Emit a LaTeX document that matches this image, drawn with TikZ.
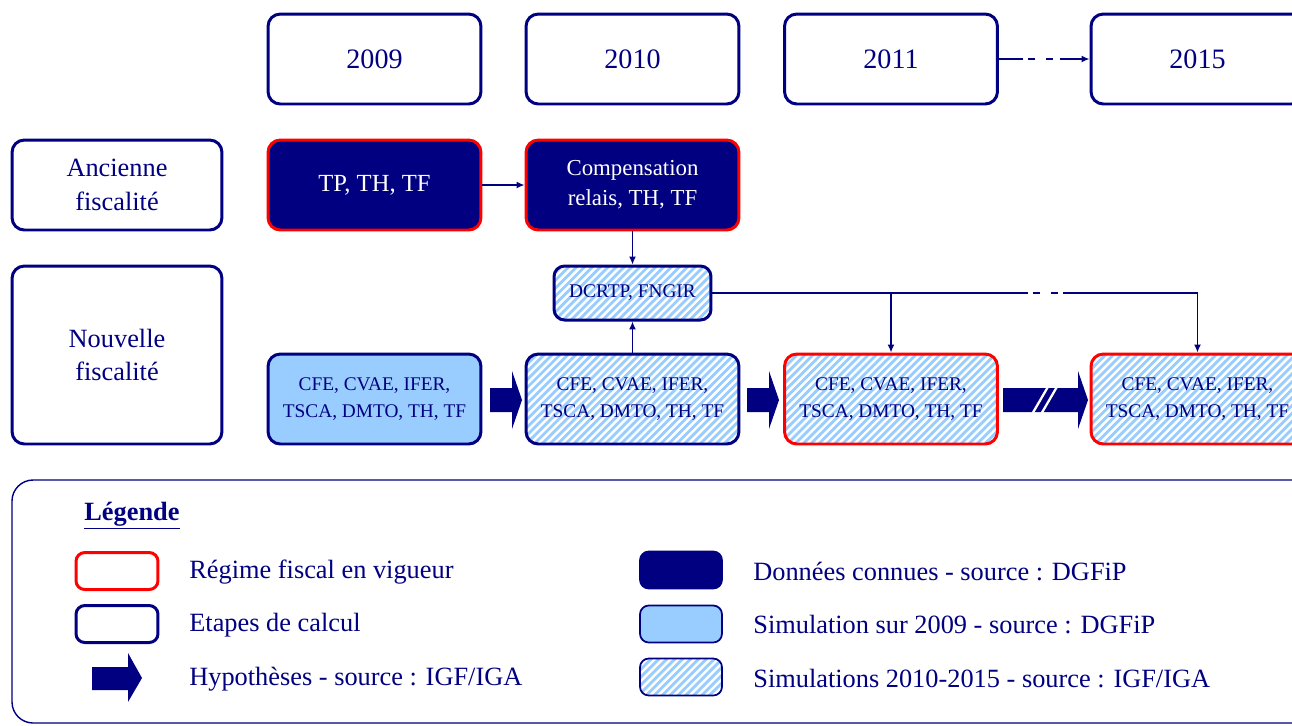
\documentclass[tikz,border=0pt]{standalone}
\usepackage{fontspec}
\setmainfont{Liberation Serif}
\usepackage{tikz}
\usetikzlibrary{arrows.meta, positioning, calc, patterns}
\definecolor{navy}{RGB}{0,0,128}
\definecolor{sky}{RGB}{153,204,255}
\pgfdeclarepatternformonly{skystripes}{\pgfpoint{-1pt}{-1pt}}{\pgfpoint{5.5pt}{5.5pt}}{\pgfpoint{4.5pt}{4.5pt}}{%
  \pgfsetlinewidth{1.6pt}
  \pgfpathmoveto{\pgfpoint{0pt}{0pt}}
  \pgfpathlineto{\pgfpoint{4.6pt}{4.6pt}}
  \pgfusepath{stroke}}
\tikzset{
  box/.style={draw=navy, line width=1.7pt, rounded corners=7pt, text=navy, align=center,
    minimum width=4.26cm, minimum height=1.8cm, inner sep=1pt},
  inforce/.style={draw=red},
  known/.style={fill=navy, text=white},
  sim/.style={fill=sky},
  hatch/.style={pattern=skystripes, pattern color=sky},
  yearlbl/.style={font=\fontsize{16}{19}\selectfont},
  rowlbl/.style={font=\fontsize{15}{19}\selectfont},
  tax/.style={font=\fontsize{11}{15.5}\selectfont},
  link/.style={navy, line width=1pt, -{Latex[length=4.5pt,width=4pt]}},
  plain/.style={navy, line width=1pt},
  gap/.style={dash pattern=on 0pt off 3pt on 4pt off 3pt},
  key/.style={draw=navy, line width=1.7pt, rounded corners=5pt, minimum width=1.64cm, minimum height=0.74cm},
  keytext/.style={anchor=west, inner sep=0pt, text=navy, font=\fontsize{15}{18}\selectfont},
}

\begin{document}
\begin{tikzpicture}[x=0.02cm, y=-0.02cm]
\useasboundingbox (0,0) rectangle (1292,725);
\clip (0,0) rectangle (1292,725);
% Years
\foreach \yr/\x in {2009/374.5, 2010/632.5, 2011/891, 2015/1197.5} {
    \node[box, yearlbl] (y\yr) at (\x,59) {\yr};
}
\coordinate (dashA) at (1023,59);
\coordinate (dashB) at (1060,59);
\draw[plain, line width=1.4pt] (y2011) -- (dashA);
\draw[plain, line width=1.4pt, gap] (dashA) -- (dashB);
\draw[link, line width=1.4pt] (dashB) -- (y2015);

% Ancienne fiscalite
\node[box, rowlbl, minimum width=4.2cm] (anc) at (117,185) {Ancienne\\fiscalité};
\node[box, inforce, known, font=\fontsize{14}{17}\selectfont] (tp) at (374.5,185) {TP, TH, TF};
\node[box, inforce, known, font=\fontsize{13}{17}\selectfont] (comp) at (632.5,185) {Compensation\\relais, TH, TF};
\draw[link] (tp) -- (comp);

% Nouvelle fiscalite
\node[box, rowlbl, minimum width=4.2cm, minimum height=3.56cm] (nouv) at (117,355) {Nouvelle\\fiscalité};
\node[box, hatch, tax, minimum width=3.14cm, minimum height=1.08cm, rounded corners=6pt] (dcrtp) at (632.5,293) {DCRTP, FNGIR};
\node[box, sim, tax] (b2009) at (374.5,399) {CFE, CVAE, IFER,\\TSCA, DMTO, TH, TF};
\node[box, hatch, tax] (b2010) at (632.5,399) {CFE, CVAE, IFER,\\TSCA, DMTO, TH, TF};
\node[box, inforce, hatch, tax] (b2011) at (891,399) {CFE, CVAE, IFER,\\TSCA, DMTO, TH, TF};
\node[box, inforce, hatch, tax] (b2015) at (1197.5,399) {CFE, CVAE, IFER,\\TSCA, DMTO, TH, TF};

% Links
\draw[link] (comp) -- (dcrtp);
\draw[link] (b2010) -- (dcrtp);
\draw[link] (dcrtp.east) -| (b2011.north);
\coordinate (gapA) at (1028,293);
\coordinate (gapB) at (1063,293);
\draw[plain] (dcrtp.east) -- (gapA);
\draw[plain, gap] (gapA) -- (gapB);
\draw[link] (gapB) -| (b2015.north);

% Hypotheses arrows
\foreach \x/\len in {490/22, 747/22, 1003/75} {
    \fill[navy] (\x,388) -- ++(\len,0) -- ++(0,-17) -- ++(10,29) -- ++(-10,29)
        -- ++(0,-17) -- ++(-\len,0) -- cycle;
}
\draw[white, line width=1.3pt] (1031,416) -- (1049,385) (1040,416) -- (1058,385);

% Legend
\draw[navy, line width=0.8pt, rounded corners=12pt] (12,480) rectangle (1340,723);
\node[text=navy, font=\fontsize{15}{18}\selectfont\bfseries] (legtitle) at (132,516) {\underline{Légende}};
\node[key, draw=red] (kreg) at (117,571) {};
\node[key] (kstep) at (117,624) {};
\fill[navy] (92,667) -- (128,667) -- (128,653) -- (142,678) -- (128,702) -- (128,690) -- (92,690) -- cycle;
\node[key, known, line width=1pt] (kknown) at (681,570) {};
\node[key, sim, line width=1pt] (ksim) at (681,624) {};
\node[key, hatch, line width=1pt] (khatch) at (681,677) {};
\node[keytext] (treg) at (189,572) {Régime fiscal en vigueur};
\node[keytext] (tstep) at (189,625) {Etapes de calcul};
\node[keytext] (thyp) at (189,679) {Hypothèses - source : IGF/IGA};
\node[keytext] (tknown) at (753,572) {Données connues - source : DGFiP};
\node[keytext] (tsim) at (753,625) {Simulation sur 2009 - source : DGFiP};
\node[keytext] (thatch) at (753,679) {Simulations 2010-2015 - source : IGF/IGA};
\end{tikzpicture}
\end{document}
